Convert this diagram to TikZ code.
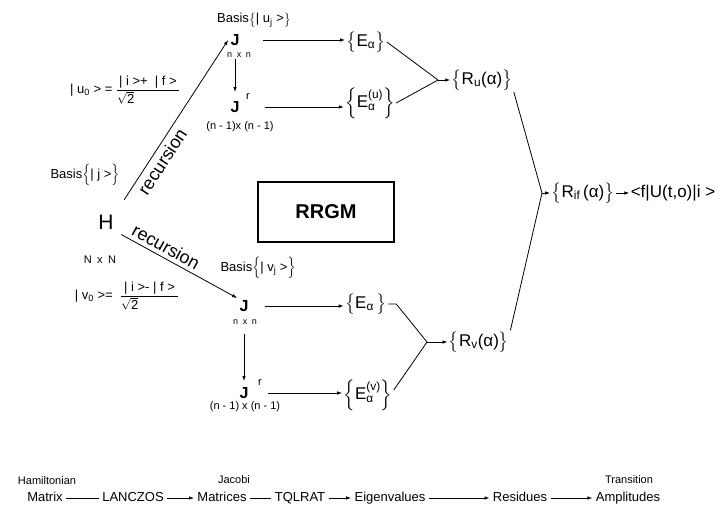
\documentclass[tikz,border=0pt]{standalone}
\usepackage{amsmath}
\usepackage{fontspec}
\setmainfont{Liberation Sans}
\usetikzlibrary{arrows.meta}

\tikzset{
  lbl/.style={inner sep=1pt, font=\fontsize{13}{15}\selectfont},
  dim/.style={inner sep=1pt, font=\fontsize{11}{13}\selectfont},
  tiny/.style={inner sep=1pt, font=\fontsize{9}{11}\selectfont},
  setn/.style={inner sep=1pt, font=\fontsize{17}{20}\selectfont},
  bigJ/.style={inner sep=2pt, font=\bfseries\fontsize{16}{19}\selectfont},
  rec/.style={inner sep=4pt, sloped, font=\fontsize{18}{21}\selectfont},
  rowtxt/.style={inner sep=3pt, text height=10pt, text depth=3pt, font=\fontsize{13}{15}\selectfont},
  arr/.style={-{Latex[length=5pt,width=3.5pt]}}
}

\begin{document}
\begin{tikzpicture}[x=1pt, y=-1pt, line width=0.8pt]
    \useasboundingbox (0,0) rectangle (718,512);

    % Hamiltonian and starting vectors
    \node[inner sep=2pt, font=\fontsize{21}{24}\selectfont] (H) at (106,222) {H};
    \node[dim] (NxN) at (100,260) {N\enspace x\enspace N};
    \node[lbl] (basisj) at (85,175) {Basis$\Big\{$| j >$\Big\}$};
    \node[lbl] (uzero) at (125,90) {| u\textsubscript{0} > = $\dfrac{\text{| i >+ \ | f >}}{\sqrt{\text{2}}\hphantom{\text{>+ \ | f >}}}$};
    \node[lbl] (vzero) at (127,296) {| v\textsubscript{0} >= \ $\dfrac{\text{\,| i >- | f >\,}}{\sqrt{\text{2}}\hphantom{\text{>- | f >\,}}}$};

    % upper branch
    \node[lbl] (basisu) at (254,20) {Basis$\big\{$| u\textsubscript{j} >$\big\}$};
    \node[bigJ] (Ju) at (235,40) {J};
    \node[tiny] (nxnu) at (239,55) {n\enspace x\enspace n};
    \node[bigJ] (Jur) at (235,107) {J};
    \node[dim] (ru) at (248,97) {r};
    \node[dim] (dimu) at (240,127) {(n - 1)x (n - 1)};
    \node[setn] (Eu) at (366,42) {$\big\{\text{E}_{\text{α}}\big\}$};
    \node[setn] (Euu) at (370,103) {$\Big\{\text{E}^{\text{(u)}}_{\text{α}}\Big\}$};
    \coordinate (ju) at (438,80);
    \node[setn] (Ru) at (482,80) {$\big\{\text{R}_{\text{u}}\text{(α)}\big\}$};

    % lower branch
    \node[lbl] (basisv) at (258,268) {Basis$\Big\{$| v\textsubscript{j} >$\Big\}$};
    \node[bigJ] (Jv) at (244,306) {J};
    \node[tiny] (nxnv) at (245,322) {n\enspace x\enspace n};
    \node[bigJ] (Jvr) at (244,393) {J};
    \node[dim] (rv) at (260,383) {r};
    \node[dim] (dimv) at (245,407) {(n - 1) x (n - 1)};
    \node[setn] (Ev) at (366,304) {$\big\{\text{E}_{\text{α}}\,\big\}$};
    \node[setn] (Evv) at (368,395) {$\Big\{\text{E}^{\text{(v)}}_{\text{α}}\Big\}$};
    \coordinate (jv) at (427,342);
    \node[setn] (Rv) at (479,342) {$\big\{\text{R}_{\text{v}}\text{(α)}\big\}$};

    % combined residues
    \coordinate (jr) at (542,193);
    \node[setn] (Rif) at (583,193) {$\big\{\text{R}_{\text{if}}\,\text{(α)}\big\}$};
    \node[setn] (amp) at (673,193) {<f|U(t,o)|i >};

    % method box
    \node[draw, line width=1.5pt, minimum width=136pt, minimum height=60pt,
          font=\bfseries\fontsize{20}{24}\selectfont] (rrgm) at (326,212) {RRGM};

    % recursions
    \draw[arr, shorten <=15pt] (H.north east) -- (Ju.west)
        node[rec, below, pos=0.33] {recursion};
    \draw[arr, shorten <=6pt] (H.south east) -- (Jv.north west)
        node[rec, above, pos=0.37] {recursion};

    % upper connectors
    \draw[arr, shorten >=7pt] (Ju |- nxnu.south) -- (Jur.north);
    \draw[arr, shorten <=21pt] (Ju.east) -- (Ju.east -| Eu.west);
    \draw[arr, shorten <=23pt] (Jur.east) -- (Jur.east -| Euu.west);
    \draw (Eu.east) -- (ju);
    \draw (Euu.east) -- (ju);
    \draw[arr] (ju) -- (Ru.west);

    % lower connectors
    \draw[arr, shorten <=8pt, shorten >=4pt] (Jv |- nxnv.south) -- (Jvr.north);
    \draw[arr, shorten <=14pt] (Jv.east) -- (Jv.east -| Ev.west);
    \draw[arr, shorten <=17pt] (Jvr.east) -- (Jvr.east -| Evv.west);
    \draw (Ev.east) -- ++(8,0) -- (jv);
    \draw ([yshift=5pt]Evv.east) -- (jv);
    \draw[arr] (jv) -- (Rv.west);

    % join
    \draw (Ru.south east) -- (jr);
    \draw (Rv.north east) -- (jr);
    \draw[arr] (jr) -- (Rif.west);
    \draw[arr] (Rif.east) -- (amp.west);

    % program flow row
    \node[dim] (ham) at (47,481) {Hamiltonian};
    \node[dim] (jac) at (234,480) {Jacobi};
    \node[dim] (tra) at (629,480) {Transition};
    \node[rowtxt] (matrix) at (45,498) {Matrix};
    \node[rowtxt] (lanczos) at (133,498) {LANCZOS};
    \node[rowtxt] (matrices) at (222,498) {Matrices};
    \node[rowtxt] (tqlrat) at (300,498) {TQLRAT};
    \node[rowtxt] (eigen) at (390,498) {Eigenvalues};
    \node[rowtxt] (resid) at (520,498) {Residues};
    \node[rowtxt] (ampl) at (628,498) {Amplitudes};
    \draw (matrix) -- (lanczos);
    \draw[arr] (lanczos) -- (matrices);
    \draw (matrices) -- (tqlrat);
    \draw[arr] (tqlrat) -- (eigen);
    \draw[arr] (eigen) -- (resid);
    \draw[arr] (resid) -- (ampl);
\end{tikzpicture}
\end{document}
